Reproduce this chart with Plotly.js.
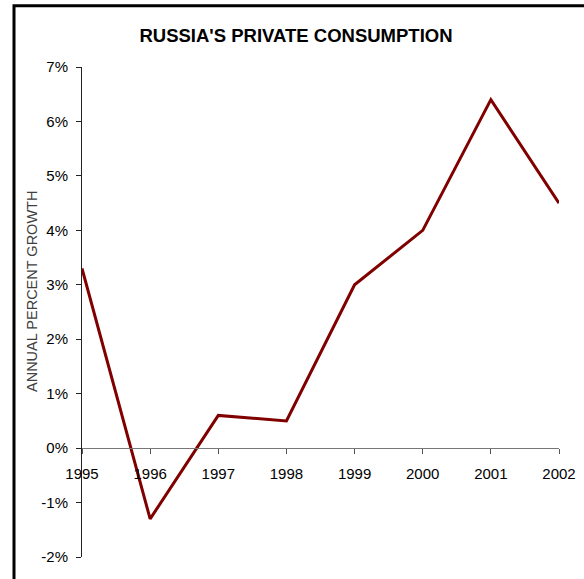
<!DOCTYPE html>
<html>
<head>
<meta charset="utf-8">
<script src="https://cdn.plot.ly/plotly-3.0.1.min.js"></script>
<style>html,body{margin:0;padding:0;background:#fff;}#chart{width:584px;height:579px;}</style>
</head>
<body>
<div id="chart"></div>
<script>
var years = [1995, 1996, 1997, 1998, 1999, 2000, 2001, 2002];
var growth = [3.3, -1.3, 0.6, 0.5, 3.0, 4.0, 6.4, 4.5];
var yTickVals = [-2, -1, 0, 1, 2, 3, 4, 5, 6, 7];
var yTickText = ['-2%', '-1%', '0%', '1%', '2%', '3%', '4%', '5%', '6%', '7%'];

var trace = {
  x: years,
  y: growth,
  type: 'scatter',
  mode: 'lines',
  line: {color: '#800000', width: 3},
  hoverinfo: 'skip'
};

var font = {family: 'Liberation Sans, Arial, sans-serif', color: '#000'};

var layout = {
  width: 584,
  height: 579,
  margin: {l: 82, r: 25, t: 67, b: 22, pad: 0},
  paper_bgcolor: '#fff',
  plot_bgcolor: '#fff',
  showlegend: false,
  font: font,
  title: {
    text: "RUSSIA'S PRIVATE CONSUMPTION",
    font: {family: font.family, size: 18.5, color: '#000', weight: 'bold'},
    xref: 'container', x: 296 / 584, xanchor: 'center',
    yref: 'container', y: 1 - 36/579, yanchor: 'middle'
  },
  xaxis: {
    range: [1995, 2002],
    tickmode: 'array',
    tickvals: years,
    ticktext: years.map(String),
    showgrid: false,
    zeroline: false,
    showline: true,
    linecolor: '#777',
    linewidth: 1,
    ticks: 'outside',
    ticklen: 5,
    tickcolor: '#555',
    ticklabelstandoff: 7,
    tickfont: {family: font.family, size: 15, color: '#000'},
    anchor: 'free',
    position: 2/9,
    fixedrange: true
  },
  yaxis: {
    range: [-2, 7],
    tickmode: 'array',
    tickvals: yTickVals,
    ticktext: yTickText,
    showgrid: false,
    zeroline: false,
    showline: true,
    linecolor: '#222',
    linewidth: 1,
    ticks: 'outside',
    ticklen: 5,
    tickcolor: '#222',
    ticklabelstandoff: 5,
    tickfont: {family: font.family, size: 15, color: '#000'},
    domain: [0, 1],
    fixedrange: true
  },
  annotations: [{
    text: 'ANNUAL PERCENT GROWTH',
    xref: 'paper', yref: 'paper',
    x: (32 - 82) / 477, y: (557 - 292) / 490,
    xanchor: 'center', yanchor: 'middle',
    textangle: -90,
    showarrow: false,
    font: {family: font.family, size: 14.5, color: '#404040'}
  }],
  shapes: [{
    type: 'rect',
    xref: 'paper', yref: 'paper',
    x0: (14 - 82) / 477, x1: 1.3,
    y0: -0.3, y1: (557 - 5.7) / 490,
    line: {color: '#000', width: 3},
    fillcolor: 'rgba(0,0,0,0)',
    layer: 'below'
  }]
};

Plotly.newPlot('chart', [trace], layout, {displayModeBar: false, staticPlot: true});
</script>
</body>
</html>
